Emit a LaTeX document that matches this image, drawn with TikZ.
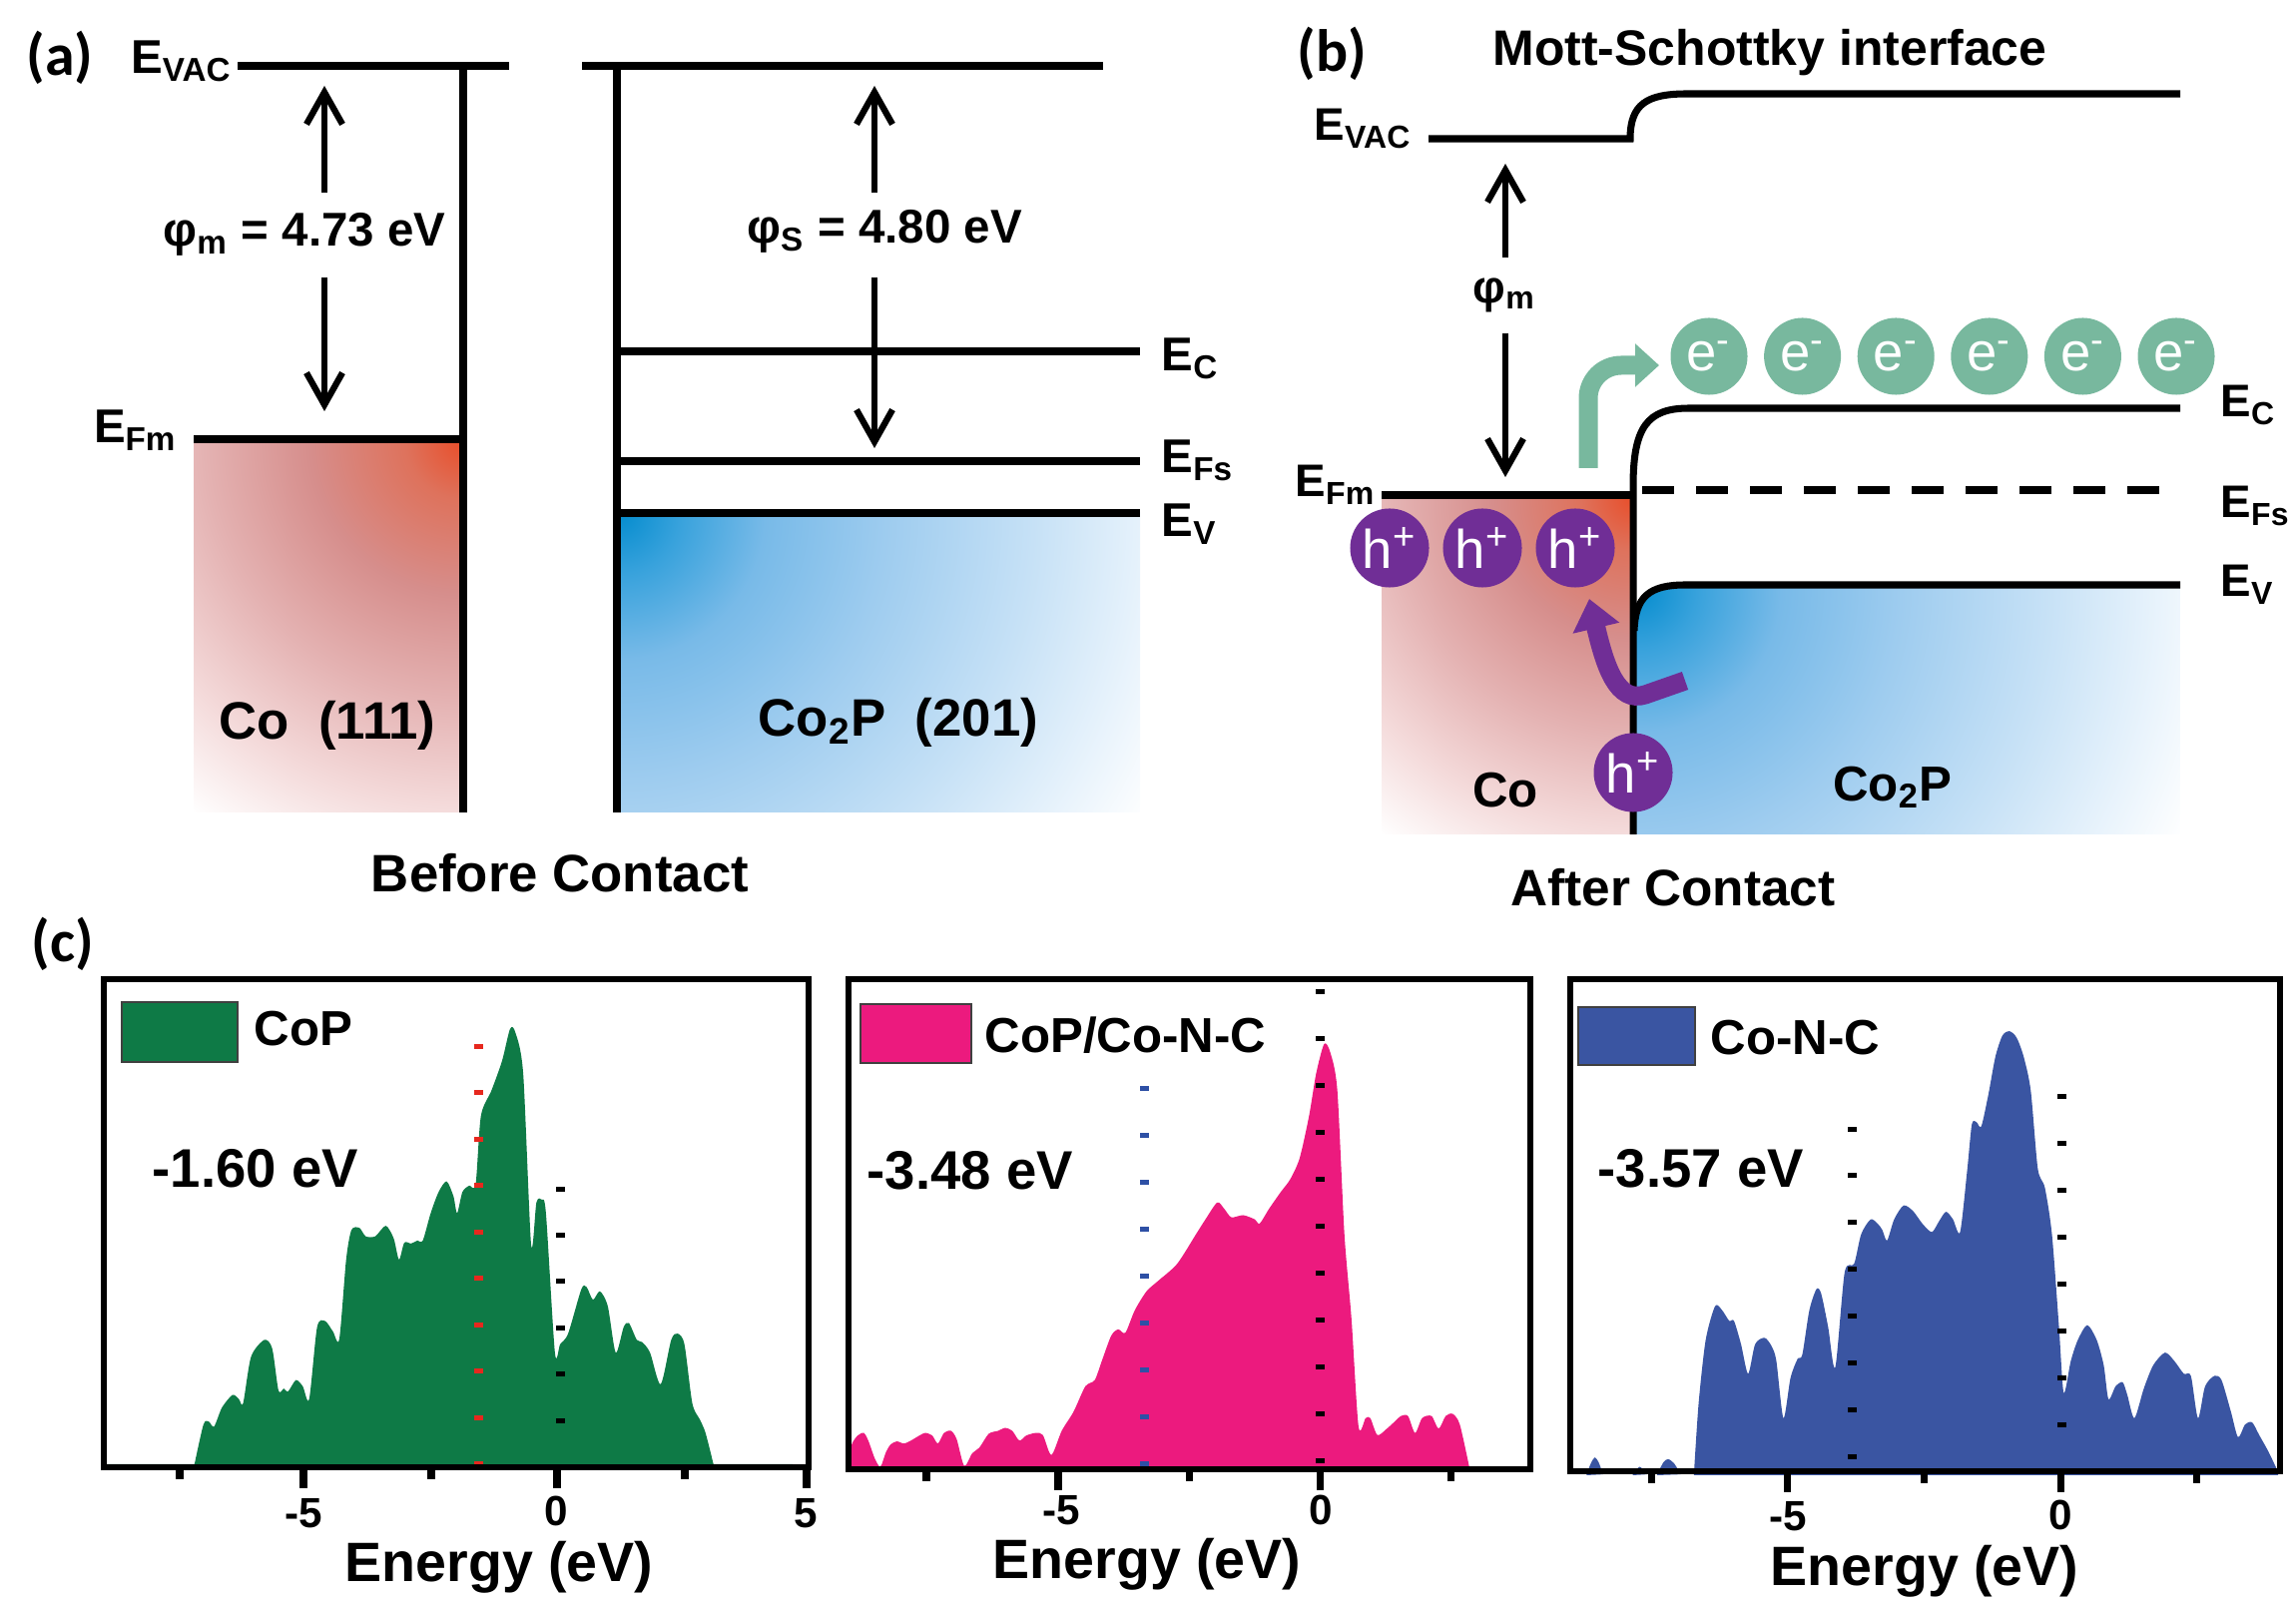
\documentclass[tikz,border=0pt]{standalone}
\usepackage{fontspec}
\setmainfont{Liberation Sans}
\newfontfamily\carlito{Carlito}
\usetikzlibrary{arrows.meta}

\definecolor{cored}{RGB}{232,78,42}
\definecolor{cored2}{RGB}{222,114,92}
\definecolor{corose}{RGB}{214,142,140}
\definecolor{copink}{RGB}{228,178,178}
\definecolor{copale}{RGB}{244,218,218}
\definecolor{bl1}{RGB}{4,140,206}
\definecolor{bl2}{RGB}{56,162,220}
\definecolor{bl3}{RGB}{120,186,232}
\definecolor{bl4}{RGB}{158,204,239}
\definecolor{bl5}{RGB}{198,225,246}
\definecolor{bl6}{RGB}{234,244,252}
\definecolor{egreen}{RGB}{120,184,158}
\definecolor{hpurple}{RGB}{112,46,150}
\definecolor{copg}{RGB}{14,122,70}
\definecolor{pinkc}{RGB}{236,26,126}
\definecolor{cncblue}{RGB}{58,85,162}
\definecolor{dotred}{RGB}{230,40,30}
\definecolor{dotblue}{RGB}{46,80,165}

\pgfdeclareradialshading{redglow}{\pgfpoint{0bp}{0bp}}{color(0bp)=(cored); color(3bp)=(cored2); color(8bp)=(corose); color(13.5bp)=(copink); color(19bp)=(copale); color(24bp)=(white); color(50bp)=(white)}
\pgfdeclareradialshading{blueglow}{\pgfpoint{0bp}{0bp}}{color(0bp)=(bl1); color(2.5bp)=(bl2); color(6bp)=(bl3); color(11bp)=(bl4); color(17bp)=(bl5); color(22bp)=(bl6); color(25bp)=(white); color(50bp)=(white)}

\newcommand{\lsb}[1]{\textsubscript{#1}}

\begin{document}
\begin{tikzpicture}[x=0.01cm, y=-0.01cm,
  band/.style={line width=2pt},
  warrow/.style={line width=1.8pt, -{Straight Barb[length=0.32cm, width=0.36cm]}},
  lblA/.style={inner sep=0pt, font=\fontsize{13.5}{16}\selectfont\bfseries},
  lblB/.style={inner sep=0pt, font=\fontsize{13}{15}\selectfont\bfseries},
  matA/.style={inner sep=0pt, font=\fontsize{15}{18}\selectfont\bfseries},
  matB/.style={inner sep=0pt, font=\fontsize{14}{17}\selectfont\bfseries},
  capt/.style={inner sep=0pt, font=\fontsize{15}{18}\selectfont\bfseries},
  panel/.style={inner sep=0pt, font=\fontsize{17}{20}\selectfont\carlito\bfseries},
  hole/.style={circle, fill=hpurple, minimum size=0.79cm, inner sep=0pt, text=white, font=\fontsize{15.5}{18}\selectfont},
  elec/.style={circle, fill=egreen, minimum size=0.77cm, inner sep=0pt, text=white, font=\fontsize{15.5}{18}\selectfont},
  garrow/.style={draw=egreen, line width=0.19cm, rounded corners=0.33cm, -{Triangle[length=0.24cm, width=0.42cm]}},
  parrow/.style={draw=hpurple, line width=0.19cm, -{Triangle[length=0.3cm, width=0.46cm]}},
  frame/.style={line width=1.6pt},
  tick/.style={line width=2pt},
  legbox/.style={draw=black!75, line width=0.7pt, inner sep=0pt},
  leglbl/.style={inner sep=0pt, anchor=west, font=\fontsize{14}{17}\selectfont\bfseries},
  vallbl/.style={inner sep=0pt, anchor=west, font=\fontsize{15.5}{18}\selectfont\bfseries},
  ticklbl/.style={inner sep=0pt, font=\fontsize{12}{14}\selectfont\bfseries},
  axlbl/.style={inner sep=0pt, font=\fontsize{15.8}{18}\selectfont\bfseries}
]
\useasboundingbox (0,0) rectangle (2300,1604);

% ================= panel (a) =================
\begin{scope}
  \clip (194,442) rectangle (464,814);
  \shade[shading=redglow] (464,442) circle (4.8cm);
\end{scope}
\begin{scope}
  \clip (620,514) rectangle (1142,814);
  \shade[shading=blueglow] (620,514) circle (6.1cm);
\end{scope}

\draw[band] (238,66) -- (510,66);
\draw[band] (583,66) -- (1105,66);
\draw[band] (464,66) -- (464,814);
\draw[band] (618,66) -- (618,814);
\draw[band] (194,440) -- (464,440);
\draw[band] (618,352) -- (1142,352);
\draw[band] (618,462) -- (1142,462);
\draw[band] (618,514) -- (1142,514);

\node[panel] (pa) at (60,58) {(a)};
\node[lblA, anchor=base east] (evaca) at (233,74) {E\lsb{VAC}};
\node[lblA, anchor=base east] (efma) at (178,444) {E\lsb{Fm}};
\node[lblA, anchor=base west] (eca) at (1163,372) {E\lsb{C}};
\node[lblA, anchor=base west] (efsa) at (1163,474) {E\lsb{Fs}};
\node[lblA, anchor=base west] (eva) at (1163,538) {E\lsb{V}};
\node[lblA] (phima) at (305,235) {φ\lsb{m} = 4.73 eV};
\node[lblA] (phisa) at (886,232) {φ\lsb{S} = 4.80 eV};

\coordinate (amupfoot) at (325,193);
\coordinate (amup) at (325,86);
\coordinate (amdnfoot) at (325,278);
\coordinate (amdn) at (325,412);
\draw[warrow] (amupfoot) -- (amup);
\draw[warrow] (amdnfoot) -- (amdn);
\coordinate (asupfoot) at (876,193);
\coordinate (asup) at (876,86);
\coordinate (asdnfoot) at (876,278);
\coordinate (asdn) at (876,449);
\draw[warrow] (asupfoot) -- (asup);
\draw[warrow] (asdnfoot) -- (asdn);

\node[matA] (co111) at (328,727) {Co\ \ (111)};
\node[matA] (co2p201) at (900,724) {Co\lsb{2}P\ \ (201)};
\node[capt] (before) at (561,875) {Before Contact};

% ================= panel (b) =================
\begin{scope}
  \clip (1384,498) rectangle (1636,836);
  \shade[shading=redglow] (1636,498) circle (4.4cm);
\end{scope}
\begin{scope}
  \clip (1637,836) -- (1637,630) .. controls (1637,595) and (1652,586) .. (1688,586) -- (2184,586) -- (2184,836) -- cycle;
  \shade[shading=blueglow] (1640,590) circle (6.0cm);
\end{scope}

\draw[band] (1431,139) -- (1633,139) .. controls (1633,104) and (1650,94) .. (1690,94) -- (2184,94);
\draw[band] (1384,496) -- (1636,496);
\draw[band] (1636,836) -- (1636,487) .. controls (1636,428) and (1650,409) .. (1692,409) -- (2184,409);
\draw[band, dash pattern=on 0.32cm off 0.22cm] (1645,491) -- (2184,491);
\draw[band] (1637,632) .. controls (1638,598) and (1652,586) .. (1688,586) -- (2184,586);

\node[panel] (pb) at (1334,54) {(b)};
\node[inner sep=0pt, anchor=base, font=\fontsize{14.2}{17}\selectfont\bfseries] (mott) at (1773,66) {Mott-Schottky interface};
\node[lblB, anchor=base west] (evacb) at (1316,141) {E\lsb{VAC}};
\node[lblB, anchor=base west] (efmb) at (1297,498) {E\lsb{Fm}};
\node[lblB, anchor=base west] (ecb) at (2224,418) {E\lsb{C}};
\node[lblB, anchor=base west] (efsb) at (2224,519) {E\lsb{Fs}};
\node[lblB, anchor=base west] (evb) at (2224,598) {E\lsb{V}};
\node[lblB] (phimb) at (1507,296) {φ\lsb{m}};

\coordinate (bmupfoot) at (1508,258);
\coordinate (bmup) at (1508,164);
\coordinate (bmdnfoot) at (1508,334);
\coordinate (bmdn) at (1508,478);
\draw[warrow] (bmupfoot) -- (bmup);
\draw[warrow] (bmdnfoot) -- (bmdn);

\foreach \i in {0,...,5} \node[elec] (e\i) at ({1712+93.6*\i},357) {e\textsuperscript{-}};

\coordinate (gstart) at (1591,469);
\coordinate (gtip) at (1662,366);
\draw[garrow] (gstart) -- (1591,366) -- (gtip);

\node[hole] (h1) at (1392,549) {h\textsuperscript{+}};
\node[hole] (h2) at (1485,549) {h\textsuperscript{+}};
\node[hole] (h3) at (1578,549) {h\textsuperscript{+}};
\node[hole] (h4) at (1636,774) {h\textsuperscript{+}};

\coordinate (pstart) at (1688,682);
\coordinate (ptip) at (1592,600);
\draw[parrow] (pstart) -- (1648,696) .. controls (1620,705) and (1608,668) .. (ptip);

\node[matB] (cob) at (1508,792) {Co};
\node[matB] (co2pb) at (1896,789) {Co\lsb{2}P};
\node[capt, font=\fontsize{14.6}{18}\selectfont\bfseries] (after) at (1676,889) {After Contact};

% ================= panel (c) =================
\node[panel] (pc) at (63,946) {(c)};

% --- plot 1: CoP
\begin{scope}[shift={(0,940)}, xscale=0.5294, yscale=0.4236]
\fill[copg] (199,1250) -- (199,1244) -- (366,1244) -- plot[smooth, tension=0.45] coordinates {(368,1244) (385,1150) (395,1143) (405,1155) (420,1110) (440,1080) (452,1090) (460,1100) (475,990) (500,950) (515,970) (527,1070) (537,1065) (545,1072) (560,1045) (573,1060) (585,1090) (600,920) (615,905) (630,930) (642,948) (655,760) (665,690) (680,685) (692,705) (710,705) (730,680) (745,710) (755,760) (765,720) (778,722) (790,715) (800,715) (815,650) (830,600) (845,575) (858,610) (865,650) (875,600) (888,585) (900,582) (910,420) (930,360) (950,290) (965,215) (975,222) (990,320) (1005,725) (1015,625) (1025,618) (1033,650) (1050,980) (1060,960) (1075,935) (1100,830) (1110,825) (1122,855) (1135,835) (1150,870) (1165,980) (1180,920) (1190,910) (1205,950) (1215,955) (1230,980) (1250,1055) (1270,950) (1282,935) (1295,960) (1310,1100) (1325,1140) (1335,1170) (1350,1244)} -- (1500,1244) -- (1500,1250) -- cycle;
\end{scope}
\foreach \k in {0,...,9} \fill[dotred] (479,{1048+46.55*\k}) ++(-4.5,-2.5) rectangle ++(9,5);
\foreach \k in {0,...,6} \fill[black] (561,{1191+46.4*\k}) ++(-4.5,-2.5) rectangle ++(9,5);
\draw[frame] (104,981) rectangle (810,1470);
\foreach \x/\l in {180/12, 304/21, 432/12, 558/21, 686/12, 808/21} \draw[tick] (\x,1470) -- ++(0,\l);
\node[legbox, fill=copg, minimum width=1.16cm, minimum height=0.6cm] (leg1) at (180,1034) {};
\node[leglbl] (leg1t) at (254,1031) {CoP};
\node[vallbl] (val1) at (152,1171) {-1.60 eV};
\node[ticklbl] (t1a) at (304,1516) {-5};
\node[ticklbl] (t1b) at (557,1514) {0};
\node[ticklbl] (t1c) at (807,1516) {5};
\node[axlbl] (ax1) at (500,1570) {Energy (eV)};

% --- plot 2: CoP/Co-N-C
\begin{scope}[shift={(830,940)}, xscale=0.4719, yscale=0.4236]
\fill[pinkc] (42,1255) -- plot[smooth, tension=0.45] coordinates {(42,1230) (50,1195) (62,1176) (75,1170) (85,1190) (98,1230) (110,1250) (122,1215) (132,1197) (145,1190) (160,1195) (175,1188) (190,1178) (205,1170) (220,1176) (232,1195) (245,1170) (260,1165) (272,1185) (288,1248) (305,1218) (320,1205) (340,1172) (360,1165) (375,1158) (390,1165) (405,1188) (420,1176) (440,1170) (455,1175) (473,1222) (495,1165) (520,1120) (545,1060) (565,1045) (580,1000) (600,940) (615,925) (630,933) (650,880) (675,835) (700,810) (740,770) (780,700) (800,665) (825,625) (840,640) (855,660) (880,655) (905,665) (915,675) (935,640) (960,600) (980,570) (1000,520) (1020,420) (1035,320) (1052,250) (1065,270) (1080,360) (1095,700) (1110,900) (1125,1155) (1140,1135) (1150,1135) (1165,1175) (1185,1160) (1200,1145) (1215,1130) (1230,1130) (1245,1170) (1260,1135) (1280,1130) (1295,1160) (1310,1130) (1325,1125) (1340,1150) (1360,1250)} -- (1360,1255) -- cycle;
\end{scope}
\foreach \k in {0,...,8} \fill[dotblue] (1146,{1090+47.1*\k}) ++(-4.5,-2.5) rectangle ++(9,5);
\foreach \k in {0,...,10} \fill[black] (1322,{993+47*\k}) ++(-4.5,-2.5) rectangle ++(9,5);
\draw[frame] (850,981) rectangle (1533,1472);
\foreach \x/\l in {928/12, 1060/21, 1191/12, 1322/21, 1453/12} \draw[tick] (\x,1472) -- ++(0,\l);
\node[legbox, fill=pinkc, minimum width=1.11cm, minimum height=0.59cm] (leg2) at (917.5,1035.5) {};
\node[leglbl] (leg2t) at (986,1037) {CoP/Co-N-C};
\node[vallbl] (val2) at (868,1173) {-3.48 eV};
\node[ticklbl] (t2a) at (1063,1513) {-5};
\node[ticklbl] (t2b) at (1323,1513) {0};
\node[axlbl] (ax2) at (1149,1567) {Energy (eV)};

% --- plot 3: Co-N-C
\begin{scope}[shift={(1560,940)}, xscale=0.4719, yscale=0.4236]
\fill[cncblue] (62,1270) -- plot[smooth, tension=0.45] coordinates {(62,1268) (72,1240) (80,1228) (88,1240) (97,1268)} -- cycle;
\fill[cncblue] (160,1270) -- plot[smooth, tension=0.45] coordinates {(160,1268) (175,1250) (190,1268)} -- cycle;
\fill[cncblue] (212,1270) -- plot[smooth, tension=0.45] coordinates {(212,1268) (225,1240) (235,1232) (248,1242) (262,1268)} -- cycle;
\fill[cncblue] (290,1270) -- plot[smooth, tension=0.45] coordinates {(290,1268) (300,1100) (315,950) (335,870) (350,880) (365,905) (375,905) (390,960) (405,1030) (420,960) (440,945) (455,965) (465,1000) (480,1135) (495,1040) (510,995) (520,985) (535,880) (550,830) (560,840) (575,920) (590,1015) (610,790) (630,770) (645,700) (665,665) (680,675) (690,690) (700,715) (715,665) (735,632) (755,645) (775,675) (795,695) (810,670) (825,647) (840,665) (855,695) (870,550) (880,440) (890,435) (900,445) (915,370) (930,280) (945,230) (960,220) (975,235) (990,280) (1005,360) (1020,545) (1035,590) (1050,700) (1065,920) (1075,1075) (1090,1000) (1105,950) (1125,915) (1145,950) (1160,1010) (1170,1090) (1185,1060) (1200,1050) (1210,1080) (1225,1135) (1245,1065) (1265,1010) (1290,980) (1310,1000) (1330,1030) (1345,1035) (1360,1135) (1375,1060) (1395,1035) (1410,1045) (1430,1120) (1445,1180) (1460,1150) (1475,1145) (1490,1175) (1510,1215) (1530,1262)} -- (1530,1270) -- cycle;
\end{scope}
\foreach \k in {0,...,7} \fill[black] (1855,{1131+46.9*\k}) ++(-4.5,-2.5) rectangle ++(9,5);
\foreach \k in {0,...,8} \fill[black] (2065,{1098+47*\k}) ++(-4.5,-2.5) rectangle ++(9,5);
\draw[frame] (1573,981) rectangle (2284,1474);
\foreach \x/\l in {1654/12, 1790/21, 1927/12, 2064/21, 2200/12} \draw[tick] (\x,1474) -- ++(0,\l);
\node[legbox, fill=cncblue, minimum width=1.17cm, minimum height=0.58cm] (leg3) at (1639.5,1038) {};
\node[leglbl] (leg3t) at (1713,1040) {Co-N-C};
\node[vallbl] (val3) at (1600,1171) {-3.57 eV};
\node[ticklbl] (t3a) at (1791,1519) {-5};
\node[ticklbl] (t3b) at (2064,1518) {0};
\node[axlbl] (ax3) at (1928,1574) {Energy (eV)};

\end{tikzpicture}
\end{document}
